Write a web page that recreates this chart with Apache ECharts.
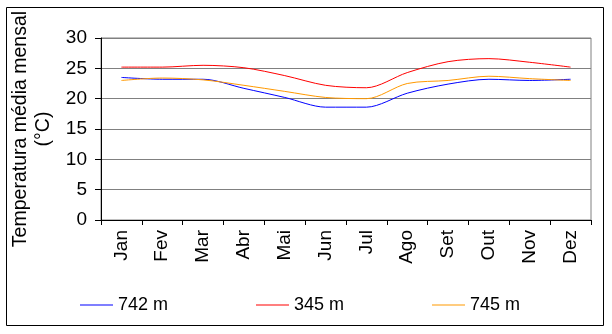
<!DOCTYPE html>
<html>
<head>
<meta charset="utf-8">
<script src="https://cdn.jsdelivr.net/npm/echarts@6/dist/echarts.min.js"></script>
<style>
  html, body { margin: 0; padding: 0; background: #fff; }
  #chart { width: 612px; height: 334px; }
</style>
</head>
<body>
<div id="chart"></div>
<script>
// Monthly mean temperature (°C) at three altitudes
const months = ['Jan', 'Fev', 'Mar', 'Abr', 'Mai', 'Jun', 'Jul', 'Ago', 'Set', 'Out', 'Nov', 'Dez'];
const seriesNames = ['742 m', '345 m', '745 m'];
const temp742 = [23.5, 23.2, 23.2, 21.7, 20.2, 18.6, 18.6, 20.9, 22.4, 23.2, 23.0, 23.2];
const temp345 = [25.2, 25.2, 25.5, 25.1, 23.8, 22.2, 21.8, 24.3, 26.1, 26.6, 26.0, 25.2];
const temp745 = [23.0, 23.4, 23.1, 22.2, 21.2, 20.2, 20.0, 22.5, 23.0, 23.7, 23.3, 23.0];
const yTicks = [0, 5, 10, 15, 20, 25, 30];

const colors = ['#0000FF', '#FF0000', '#FF9900'];
const values = [temp742, temp345, temp745];
const font = 'Arial, "Liberation Sans", sans-serif';

const chart = echarts.init(document.getElementById('chart'), null, { renderer: 'canvas' });

const legendLefts = [80, 256, 432];

chart.setOption({
  animation: false,
  backgroundColor: '#ffffff',
  grid: {
    left: 101, right: 21, top: 38, bottom: 114,
    show: true, borderColor: '#808080', borderWidth: 1
  },
  legend: seriesNames.map((name, i) => ({
    data: [name],
    left: legendLefts[i],
    top: 296,
    padding: 0,
    icon: 'rect',
    itemWidth: 33,
    itemHeight: 1,
    itemGap: 0,
    textStyle: { fontFamily: font, fontSize: 18, color: '#000' }
  })),
  xAxis: {
    type: 'category',
    data: months,
    boundaryGap: true,
    axisLine: { lineStyle: { color: '#000', width: 1 } },
    axisTick: { show: true, length: 5, lineStyle: { color: '#000' } },
    axisLabel: { rotate: 90, fontFamily: font, fontSize: 19, color: '#000', margin: 10 },
    splitLine: { show: false }
  },
  yAxis: {
    type: 'value',
    min: yTicks[0],
    max: yTicks[yTicks.length - 1],
    interval: yTicks[1] - yTicks[0],
    name: 'Temperatura média mensal\n(°C)',
    nameLocation: 'middle',
    nameRotate: 90,
    nameGap: 45,
    nameTextStyle: { fontFamily: font, fontSize: 19.5, color: '#000', lineHeight: 23, align: 'center' },
    axisLine: { show: true, lineStyle: { color: '#000', width: 1 } },
    axisTick: { show: true, length: 6, lineStyle: { color: '#000' } },
    axisLabel: { fontFamily: font, fontSize: 19, color: '#000', margin: 14 },
    splitLine: { show: true, lineStyle: { color: '#808080', width: 1 } }
  },
  series: seriesNames.map((name, i) => ({
    name: name,
    type: 'line',
    data: values[i],
    smooth: 0.3,
    symbol: 'none',
    lineStyle: { color: colors[i], width: 1 },
    itemStyle: { color: colors[i] }
  })),
  graphic: [{
    type: 'rect',
    shape: { x: 6.5, y: 7.5, width: 597, height: 318 },
    style: { fill: 'none', stroke: '#000', lineWidth: 1 },
    silent: true,
    z: 100
  }]
});
</script>
</body>
</html>
